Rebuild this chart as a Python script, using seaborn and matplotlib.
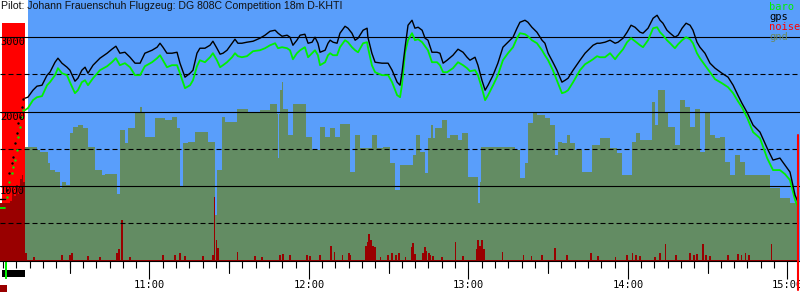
import matplotlib
matplotlib.use("Agg")
import matplotlib.pyplot as plt
import matplotlib.transforms as mtransforms
from matplotlib.patches import Rectangle
from matplotlib.ticker import FixedLocator, FuncFormatter, MultipleLocator
import seaborn as sns
import pandas as pd

# ---------------- data (time = minutes after 10:00, altitude in m) ----------------
title = "Pilot: Johann Frauenschuh Flugzeug: DG 808C Competition 18m D-KHTI"

pre_t = [3.8, 5.7, 6.5, 7.3, 8.2, 8.8, 9.4, 10.1, 10.7, 11.3, 12.0, 12.6]
pre_gps = [825, 825, 950, 1174, 1308, 1389, 1577, 1711, 1845, 1926, 2060, 2167]
pre_baro = [705, 705, 852, 1050, 1174, 1260, 1349, 1480, 1657, 1792, 1926, 2020]

flight_t = [13.2, 14.3, 16.2, 17.7, 19.6, 21.5, 22.6, 24.5, 25.6, 27.1, 29.0, 30.1, 32.0, 33.1, 34.6,
            35.8, 36.9, 38.8, 41.4, 44.1, 45.9, 47.4, 48.9, 50.8, 52.7, 54.6, 56.5, 58.3, 61.0, 62.9,
            64.0, 65.1, 66.6, 68.5, 70.4, 71.5, 73.4, 75.3, 76.4, 77.9, 79.0,
            80.9, 82.8, 83.9, 85.4, 86.6, 87.7, 89.2, 91.1, 92.2, 93.3, 94.8, 96.7, 99.0, 101.6, 103.5,
            105.4, 107.3, 108.4, 109.9, 111.8, 112.9, 114.0, 115.5, 116.7, 118.5, 119.7, 121.2, 122.3,
            123.4, 124.2, 126.1, 127.2, 128.0, 129.1, 130.6, 131.7, 133.6, 134.7, 136.2, 137.4, 138.5,
            140.4, 141.9, 142.2, 143.7, 144.9, 147.5, 149.8, 151.3, 153.2, 154.3,
            155.0, 156.2, 157.3, 158.8, 159.9, 161.1, 162.6, 163.7, 164.8, 166.3, 168.2, 169.3, 170.5,
            172.0, 174.2, 176.1, 178.0, 179.5, 180.6, 182.5, 183.6, 185.1, 186.3, 187.4, 189.3, 191.1,
            193.0, 194.9, 196.8, 198.3, 199.4, 201.3, 202.4, 203.9, 205.8, 207.7, 208.8, 210.0, 211.8,
            213.3, 215.2, 216.4, 217.5, 219.4, 222.0, 223.9, 225.8, 226.9, 228.4, 229.5,
            231.4, 233.3, 235.2, 236.3, 238.2, 239.7, 241.2, 242.7, 244.6, 245.7, 247.6, 249.5, 251.0,
            252.1, 253.2, 254.7, 255.9, 257.7, 258.9, 260.4, 261.9, 263.4, 264.5, 266.0, 267.1, 269.0,
            270.9, 272.8, 275.4, 277.7, 279.6, 281.4, 282.9, 284.8, 287.1, 289.7, 292.4, 294.6, 297.2,
            299.1, 301.0, 302.9, 304.0]

gps = [2181, 2194, 2288, 2342, 2355, 2490, 2530, 2664, 2718, 2651, 2597, 2557, 2409, 2449, 2557,
       2597, 2516, 2624, 2718, 2785, 2839, 2879, 2785, 2798, 2731, 2651, 2651, 2785, 2825, 2866,
       2919, 2866, 2785, 2785, 2798, 2651, 2463, 2516, 2557, 2785, 2852,
       2852, 2892, 2946, 2852, 2772, 2785, 2825, 2919, 2973, 2919, 2919, 2933, 2946, 2987, 3027,
       3080, 3094, 3054, 3013, 3027, 3000, 2892, 2960, 3027, 3040, 2919, 2933, 3000, 2919, 2798,
       2825, 2919, 2960, 2933, 2919, 3054, 3147, 3121, 3054, 2960, 2987, 3094, 3121, 3000, 2785,
       2664, 2651, 2651, 2557, 2396, 2355,
       2516, 2866, 3161, 3228, 3121, 3134, 3094, 2987, 2960, 2798, 2798, 2785, 2651, 2691, 2758,
       2839, 2798, 2731, 2691, 2731, 2624, 2422, 2288, 2355, 2490, 2651, 2866, 2933, 3000, 3121,
       3201, 3228, 3201, 3134, 3067, 2960, 2919, 2785, 2664, 2557, 2396, 2422, 2449, 2557, 2691,
       2785, 2852, 2892, 2919, 2919,
       2933, 2960, 2919, 2933, 2987, 3067, 3161, 3134, 3067, 3054, 3121, 3255, 3295, 3228, 3188,
       3094, 3054, 3000, 3027, 3121, 3188, 3161, 3094, 2933, 2866, 2785, 2651, 2584, 2516, 2463,
       2355, 2221, 2114, 1993, 1819, 1725, 1510, 1349, 1376, 1282, 1188, 879, 785]

baro = [2020, 2047, 2154, 2194, 2208, 2355, 2396, 2490, 2584, 2516, 2490, 2396, 2248, 2288, 2396,
        2422, 2355, 2449, 2557, 2610, 2664, 2718, 2624, 2651, 2597, 2490, 2490, 2610, 2664, 2718,
        2758, 2691, 2597, 2624, 2624, 2516, 2315, 2355, 2422, 2610, 2691,
        2664, 2731, 2785, 2691, 2597, 2624, 2664, 2731, 2785, 2745, 2731, 2745, 2812, 2825, 2852,
        2892, 2919, 2852, 2866, 2852, 2825, 2704, 2785, 2825, 2866, 2731, 2785, 2825, 2758, 2624,
        2664, 2758, 2785, 2758, 2758, 2866, 2960, 2933, 2866, 2825, 2798, 2919, 2933, 2866, 2624,
        2530, 2490, 2490, 2396, 2221, 2194,
        2355, 2798, 2960, 3054, 2960, 2973, 2933, 2879, 2825, 2664, 2664, 2624, 2530, 2530, 2584,
        2664, 2624, 2584, 2543, 2557, 2490, 2315, 2154, 2221, 2355, 2490, 2691, 2785, 2866, 2987,
        3054, 3040, 3013, 2960, 2919, 2825, 2758, 2691, 2557, 2422, 2248, 2262, 2288, 2396, 2557,
        2637, 2678, 2704, 2745, 2731,
        2731, 2785, 2704, 2758, 2839, 2933, 2987, 2946, 2892, 2866, 2960, 3121, 3134, 3067, 3027,
        2960, 2919, 2852, 2906, 2960, 3000, 2973, 2919, 2785, 2718, 2624, 2530, 2436, 2382, 2328,
        2248, 2141, 2060, 1926, 1725, 1644, 1376, 1215, 1215, 1161, 1080, 812, 718]

gnd_t = [13.2, 17.7, 18.8, 21.9, 22.6, 24.5, 26.4, 27.1, 28.6, 30.1,
         31.3, 33.1, 35.0, 36.9, 39.5, 42.2, 43.3, 47.8, 48.9, 50.8,
         51.9, 54.6, 56.5, 57.2, 58.3, 62.1, 65.9, 68.5, 70.4, 71.5,
         72.6, 74.5, 77.2, 82.0, 84.7, 85.4, 87.3, 88.4, 93.0, 97.1,
         101.6, 105.4, 108.0, 108.4, 108.8, 109.1, 109.9, 110.3, 112.1, 114.0,
         118.9, 121.2, 124.2, 126.1, 128.0, 129.8, 131.7, 135.5, 137.4, 139.2,
         143.7, 145.6, 147.9, 150.5, 152.4, 154.3, 159.2, 160.3, 161.8, 163.7,
         164.8, 165.9, 166.7, 167.4, 170.1, 172.0, 173.1, 176.1, 177.6, 179.9,
         183.6, 184.4, 184.8, 197.5, 199.4, 201.3, 202.4, 204.3, 205.8, 208.8,
         210.7, 212.6, 213.7, 215.2, 217.1, 218.2, 220.1, 222.8, 226.5, 229.5,
         233.3, 235.9, 237.8, 241.6, 243.1, 244.6, 249.1, 250.2, 251.3, 254.0,
         255.1, 257.7, 259.6, 261.5, 263.4, 265.3, 267.1, 269.0, 270.9, 272.8,
         274.7, 276.5, 278.4, 280.3, 282.2, 284.1, 293.5, 297.2, 301.0, 304.0]
gnd = [1527, 1483, 1460, 1308, 1214, 1192, 980, 1058, 1013, 1711,
       1796, 1819, 1778, 1527, 1214, 1147, 1160, 900, 1750, 1577,
       1778, 1997, 2060, 1997, 1662, 1908, 1886, 1930, 1774, 990,
       1573, 1595, 1720, 1595, 610, 1214, 1930, 1863, 2042, 1997,
       2020, 2096, 1975, 1376, 1975, 2288, 2400, 2042, 1684, 2096,
       1662, 1483, 1796, 1662, 1774, 1662, 1832, 1192, 1684, 1506,
       1684, 1506, 1527, 1308, 946, 1282, 1416, 1684, 1460, 1174,
       1640, 1819, 1640, 1774, 1886, 1640, 1684, 1617, 1707, 1125,
       772, 1058, 1527, 1483, 1103, 1308, 1841, 1997, 1953, 1908,
       1819, 1416, 1595, 1573, 1684, 1573, 1483, 1192, 1550, 1640,
       1506, 1439, 1147, 1595, 1707, 1617, 2131, 1819, 2288, 1997,
       1796, 1550, 2154, 2064, 1796, 2042, 1460, 1997, 1684, 1640,
       1662, 1326, 1147, 1416, 1326, 1147, 973, 835, 772, 772]

pre_noise_t = [3.8, 7.5, 8.3, 9.0, 9.8, 10.5, 11.3, 12.0, 12.6, 13.2]
pre_noise = [770, 800, 950, 860, 1010, 900, 1100, 1150, 1050, 1050]
noise_floor = 13
noise_t = [13.6, 16.6, 27.1, 30.1, 30.9, 36.9, 41.4, 47.8, 48.6, 49.7,
           52.7, 65.1, 69.6, 71.5, 73.4, 80.2, 83.9, 84.4, 85.1, 85.8,
           93.0, 99.7, 102.4, 109.1, 110.3, 112.9, 119.3, 120.4, 124.2, 128.3,
           129.5, 132.5, 135.1, 135.8, 141.5, 142.2, 142.6, 143.4, 144.1, 144.9,
           146.8, 149.8, 151.3, 152.8, 153.9, 156.2, 158.8, 159.2, 159.9, 162.9,
           163.7, 164.4, 165.2, 165.9, 166.7, 170.1, 175.3, 178.0, 183.2, 183.6,
           184.4, 185.1, 185.9, 192.7, 200.6, 203.9, 207.7, 212.6, 217.1, 226.1,
           228.8, 235.2, 239.7, 241.6, 243.1, 244.6, 250.2, 252.1, 254.3, 258.1,
           263.4, 264.9, 266.0, 268.3, 269.4, 270.9, 277.7, 281.4, 282.9, 284.4,
           285.6, 293.9]
noise = [101, 47, 74, 74, 100, 60, 47, 101, 150, 540,
         47, 74, 74, 101, 60, 60, 74, 856, 275, 167,
         114, 60, 47, 74, 90, 74, 74, 60, 74, 195,
         114, 74, 101, 74, 190, 250, 354, 280, 200, 180,
         47, 74, 101, 74, 101, 47, 181, 234, 90, 100,
         181, 130, 100, 74, 60, 47, 254, 60, 150, 275,
         200, 275, 150, 114, 74, 60, 74, 167, 74, 101,
         60, 47, 74, 101, 74, 60, 47, 101, 221, 74,
         101, 74, 90, 221, 74, 60, 74, 90, 74, 101,
         74, 221]

engine_start, engine_stop = 4.4, 13.2
takeoff = 6.2
sky_start = 14.2
end_marker = 304.1
hour_ticks = [60, 120, 180, 240, 300]
half_hour_ticks = [30, 90, 150, 210, 270]
y_labels = [1000, 2000, 3000]
solid_levels = [1000, 2000, 3000]
dashed_levels = [500, 1500, 2500]
legend_items = ["baro", "gps", "noise", "gnd"]

# ---------------- style ----------------
BLUE = "#599efb"
GND = "#638c63"
DARKRED = "#990000"
LIME = "#00f000"
MONO = "DejaVu Sans Mono"

sns.set_theme(style="white")
plt.rcParams["font.family"] = ["DejaVu Sans"]

fig = plt.figure(figsize=(8, 3), dpi=100)
fig.patch.set_facecolor("white")
ax = fig.add_axes([0, 39.5 / 300, 1, 260.5 / 300])
ax.set_facecolor("white")
X0, X1 = 3.8, 304.76
ax.set_xlim(X0, X1)
ax.set_ylim(0, 3500)

xt = ax.get_xaxis_transform()

ax.axvspan(sky_start, X1, color=BLUE, lw=0, zorder=0)
ax.axvspan(engine_start, engine_stop, ymin=0, ymax=0.9106, color="#ff0000", lw=0, zorder=1)

ax.fill_between(gnd_t, gnd, step="post", color=GND, lw=0, zorder=2)

ax.fill_between(pre_noise_t, pre_noise, step="post", color=DARKRED, lw=0, zorder=3)
ax.fill_between([engine_stop, flight_t[-1]], [noise_floor, noise_floor], color=DARKRED, lw=0, zorder=3)
ax.bar(noise_t, noise, width=0.45, color=DARKRED, lw=0, zorder=3)

for v in solid_levels:
    ax.axhline(v, color="black", lw=0.8, zorder=4)
for v in dashed_levels:
    ax.axhline(v, color="black", lw=0.8, ls=(0, (4.5, 2.7)), zorder=4)

df_flight = pd.DataFrame({"t": flight_t, "gps": gps, "baro": baro})
df_pre = pd.DataFrame({"t": pre_t, "gps": pre_gps, "baro": pre_baro})

sns.lineplot(data=df_flight, x="t", y="baro", color=LIME, lw=1.3, ax=ax, zorder=5,
             estimator=None, sort=False)
sns.lineplot(data=df_flight, x="t", y="gps", color="black", lw=1.0, ax=ax, zorder=6,
             estimator=None, sort=False)
sns.lineplot(data=df_pre.iloc[:2], x="t", y="baro", color=LIME, lw=1.3, ax=ax, zorder=5,
             estimator=None, sort=False)
sns.lineplot(data=df_pre.iloc[:2], x="t", y="gps", color="black", lw=1.0, ax=ax, zorder=6,
             estimator=None, sort=False)
sns.scatterplot(data=df_pre.iloc[2:], x="t", y="baro", color=LIME, s=3, lw=0, ax=ax, zorder=5)
sns.scatterplot(data=df_pre.iloc[2:], x="t", y="gps", color="black", s=3, lw=0, ax=ax, zorder=6)

# axis styling
for s in ["top", "right", "left"]:
    ax.spines[s].set_visible(False)
ax.spines["bottom"].set_color("black")
ax.spines["bottom"].set_linewidth(0.8)
ax.spines["bottom"].set_zorder(7)
ax.set_xlabel("")
ax.set_ylabel("")
ax.set_yticks([])
ax.xaxis.set_major_locator(FixedLocator(hour_ticks))
ax.xaxis.set_major_formatter(FuncFormatter(lambda v, p: f"{10 + int(round(v)) // 60:02d}:{int(round(v)) % 60:02d}"))
ax.xaxis.set_minor_locator(MultipleLocator(5))
ax.tick_params(axis="x", which="major", direction="out", length=13, width=0.8, pad=1,
               labelsize=7.5, color="black", labelcolor="black", bottom=True)
ax.tick_params(axis="x", which="minor", direction="out", length=5, width=0.8, color="black", bottom=True)
for lab in ax.get_xticklabels():
    lab.set_family(MONO)
for m in half_hour_ticks:
    ax.plot([m, m], [0, -12 / 260.5], transform=xt, clip_on=False, color="black", lw=0.8, zorder=7)

# y labels
ytrans = mtransforms.blended_transform_factory(ax.transAxes, ax.transData)
for v in y_labels:
    ax.text(0.0, v, str(v), transform=ytrans, va="top", ha="left", fontsize=7.5,
            family=MONO, color="black", zorder=8)

# markers below the axis
ax.add_patch(Rectangle((engine_start, -0.0633), engine_stop - engine_start, 0.0268, transform=xt,
                       clip_on=False, color="black", lw=0))
ax.add_patch(Rectangle((takeoff - 0.35, -0.071), 0.7, 0.065, transform=xt,
                       clip_on=False, color=LIME, lw=0))
ax.add_patch(Rectangle((X0, -0.121), 2.6, 0.027, transform=xt, clip_on=False, color=DARKRED, lw=0))
ax.plot([end_marker, end_marker], [-0.113, 0.482], transform=xt, clip_on=False,
        color="#ff0000", lw=1.5, zorder=8)

# title and legend
fig.text(0.001, 0.998, title, va="top", ha="left", fontsize=7.6, family="Liberation Sans",
         color="#111111", zorder=9)
leg_colors = [LIME, "black", "#ff0000", "#6b8a5e"]
for i, (name, c) in enumerate(zip(legend_items, leg_colors)):
    fig.text(769 / 800, 1 - (2 + 10 * i) / 300, name, va="top", ha="left", fontsize=7.5,
             family=MONO, color=c, zorder=9)

fig.savefig("out.png", dpi=100, facecolor="white")
